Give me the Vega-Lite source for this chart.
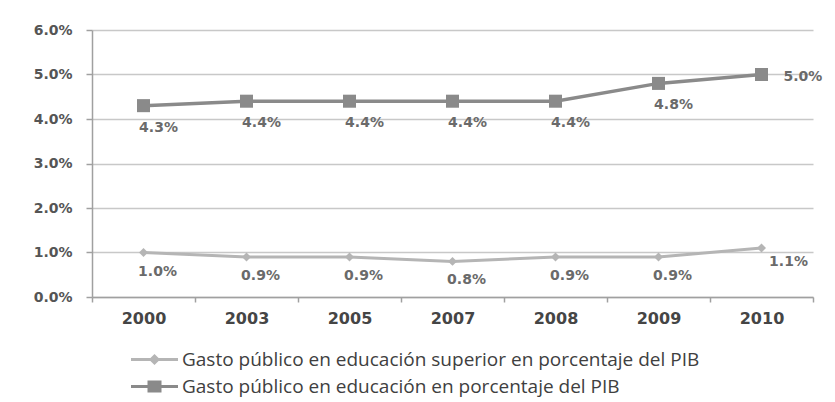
{
  "$schema": "https://vega.github.io/schema/vega-lite/v6.json",
  "width": 721,
  "height": 267,
  "autosize": {"type": "none"},
  "padding": {"left": 92, "top": 30, "right": 22, "bottom": 105},
  "background": "white",
  "config": {
    "view": {"stroke": null},
    "font": "DejaVu Sans"
  },
  "data": {
    "values": [
      {"year": "2000", "series": "Gasto público en educación superior en porcentaje del PIB", "value": 0.010},
      {"year": "2003", "series": "Gasto público en educación superior en porcentaje del PIB", "value": 0.009},
      {"year": "2005", "series": "Gasto público en educación superior en porcentaje del PIB", "value": 0.009},
      {"year": "2007", "series": "Gasto público en educación superior en porcentaje del PIB", "value": 0.008},
      {"year": "2008", "series": "Gasto público en educación superior en porcentaje del PIB", "value": 0.009},
      {"year": "2009", "series": "Gasto público en educación superior en porcentaje del PIB", "value": 0.009},
      {"year": "2010", "series": "Gasto público en educación superior en porcentaje del PIB", "value": 0.011},
      {"year": "2000", "series": "Gasto público en educación en porcentaje del PIB", "value": 0.043},
      {"year": "2003", "series": "Gasto público en educación en porcentaje del PIB", "value": 0.044},
      {"year": "2005", "series": "Gasto público en educación en porcentaje del PIB", "value": 0.044},
      {"year": "2007", "series": "Gasto público en educación en porcentaje del PIB", "value": 0.044},
      {"year": "2008", "series": "Gasto público en educación en porcentaje del PIB", "value": 0.044},
      {"year": "2009", "series": "Gasto público en educación en porcentaje del PIB", "value": 0.048},
      {"year": "2010", "series": "Gasto público en educación en porcentaje del PIB", "value": 0.050}
    ]
  },
  "encoding": {
    "x": {
      "field": "year",
      "type": "ordinal",
      "bandPosition": 0.5,
      "scale": {"type": "band", "paddingInner": 0, "paddingOuter": 0},
      "axis": {
        "title": null,
        "labelAngle": 0,
        "tickBand": "extent",
        "tickSize": 5,
        "tickColor": "#a0a0a0",
        "tickWidth": 1.5,
        "domainColor": "#a0a0a0",
        "domainWidth": 1.5,
        "labelPadding": 8,
        "labelFont": "DejaVu Sans",
        "labelFontSize": 16,
        "labelFontWeight": "bold",
        "labelColor": "#454545",
        "grid": false
      }
    },
    "y": {
      "field": "value",
      "type": "quantitative",
      "scale": {"domain": [0, 0.06], "nice": false},
      "axis": {
        "title": null,
        "values": [0, 0.01, 0.02, 0.03, 0.04, 0.05, 0.06],
        "format": ".1%",
        "tickSize": 6,
        "tickColor": "#a0a0a0",
        "tickWidth": 1.5,
        "domainColor": "#a0a0a0",
        "domainWidth": 1.5,
        "labelPadding": 14,
        "labelFont": "DejaVu Sans",
        "labelFontSize": 14,
        "labelFontWeight": "bold",
        "labelColor": "#555555",
        "grid": true,
        "gridColor": "#c8c8c8",
        "gridWidth": 1.5
      }
    }
  },
  "layer": [
    {
      "transform": [{"filter": "datum.series === 'Gasto público en educación superior en porcentaje del PIB'"}],
      "mark": {"type": "line", "strokeWidth": 3, "color": "#b5b5b5"}
    },
    {
      "transform": [{"filter": "datum.series === 'Gasto público en educación en porcentaje del PIB'"}],
      "mark": {"type": "line", "strokeWidth": 3.5, "color": "#8a8a8a"}
    },
    {
      "transform": [{"filter": "datum.series === 'Gasto público en educación superior en porcentaje del PIB'"}],
      "mark": {"type": "point", "shape": "diamond", "size": 80, "filled": true, "opacity": 1, "color": "#b5b5b5"}
    },
    {
      "transform": [{"filter": "datum.series === 'Gasto público en educación en porcentaje del PIB'"}],
      "mark": {"type": "point", "shape": "square", "size": 170, "filled": true, "opacity": 1, "color": "#8a8a8a"}
    },
    {
      "transform": [{"filter": "datum.series === 'Gasto público en educación en porcentaje del PIB' && datum.year !== '2010'"}],
      "mark": {"type": "text", "dx": 15, "dy": 22, "font": "DejaVu Sans", "fontSize": 14, "fontWeight": "bold", "color": "#6a6a6a"},
      "encoding": {"text": {"field": "value", "type": "quantitative", "format": ".1%"}}
    },
    {
      "transform": [{"filter": "datum.series === 'Gasto público en educación en porcentaje del PIB' && datum.year === '2010'"}],
      "mark": {"type": "text", "align": "left", "dx": 22, "dy": 2, "font": "DejaVu Sans", "fontSize": 14, "fontWeight": "bold", "color": "#6a6a6a"},
      "encoding": {"text": {"field": "value", "type": "quantitative", "format": ".1%"}}
    },
    {
      "transform": [{"filter": "datum.series === 'Gasto público en educación superior en porcentaje del PIB' && datum.year !== '2010'"}],
      "mark": {"type": "text", "dx": 14, "dy": 19, "font": "DejaVu Sans", "fontSize": 14, "fontWeight": "bold", "color": "#6a6a6a"},
      "encoding": {"text": {"field": "value", "type": "quantitative", "format": ".1%"}}
    },
    {
      "transform": [{"filter": "datum.series === 'Gasto público en educación superior en porcentaje del PIB' && datum.year === '2010'"}],
      "mark": {"type": "text", "dx": 27, "dy": 14, "font": "DejaVu Sans", "fontSize": 14, "fontWeight": "bold", "color": "#6a6a6a"},
      "encoding": {"text": {"field": "value", "type": "quantitative", "format": ".1%"}}
    },
    {
      "transform": [{"filter": "datum.year === 'none'"}],
      "mark": {"type": "point", "filled": true, "opacity": 1, "size": 400, "strokeWidth": 3},
      "encoding": {
        "color": {
          "field": "series",
          "type": "nominal",
          "scale": {
            "domain": ["Gasto público en educación superior en porcentaje del PIB", "Gasto público en educación en porcentaje del PIB"],
            "range": ["#b5b5b5", "#8a8a8a"]
          },
          "legend": {
            "title": null,
            "orient": "none",
            "legendX": 51,
            "legendY": 318,
            "padding": 0,
            "symbolSize": 400,
            "symbolStrokeWidth": 3,
            "symbolOpacity": 1,
            "rowPadding": 5,
            "labelOffset": 16,
            "labelFont": "Open Sans",
            "labelFontSize": 19,
            "labelColor": "#404040",
            "labelLimit": 750
          }
        },
        "stroke": {
          "field": "series",
          "type": "nominal",
          "scale": {
            "domain": ["Gasto público en educación superior en porcentaje del PIB", "Gasto público en educación en porcentaje del PIB"],
            "range": ["#b5b5b5", "#8a8a8a"]
          }
        },
        "shape": {
          "field": "series",
          "type": "nominal",
          "scale": {
            "domain": ["Gasto público en educación superior en porcentaje del PIB", "Gasto público en educación en porcentaje del PIB"],
            "range": ["M-2.35,0H2.35M-0.35,0L0,-0.35L0.35,0L0,0.35Z", "M-2.35,0H2.35M-0.55,-0.45H0.55V0.45H-0.55Z"]
          }
        }
      }
    }
  ]
}
